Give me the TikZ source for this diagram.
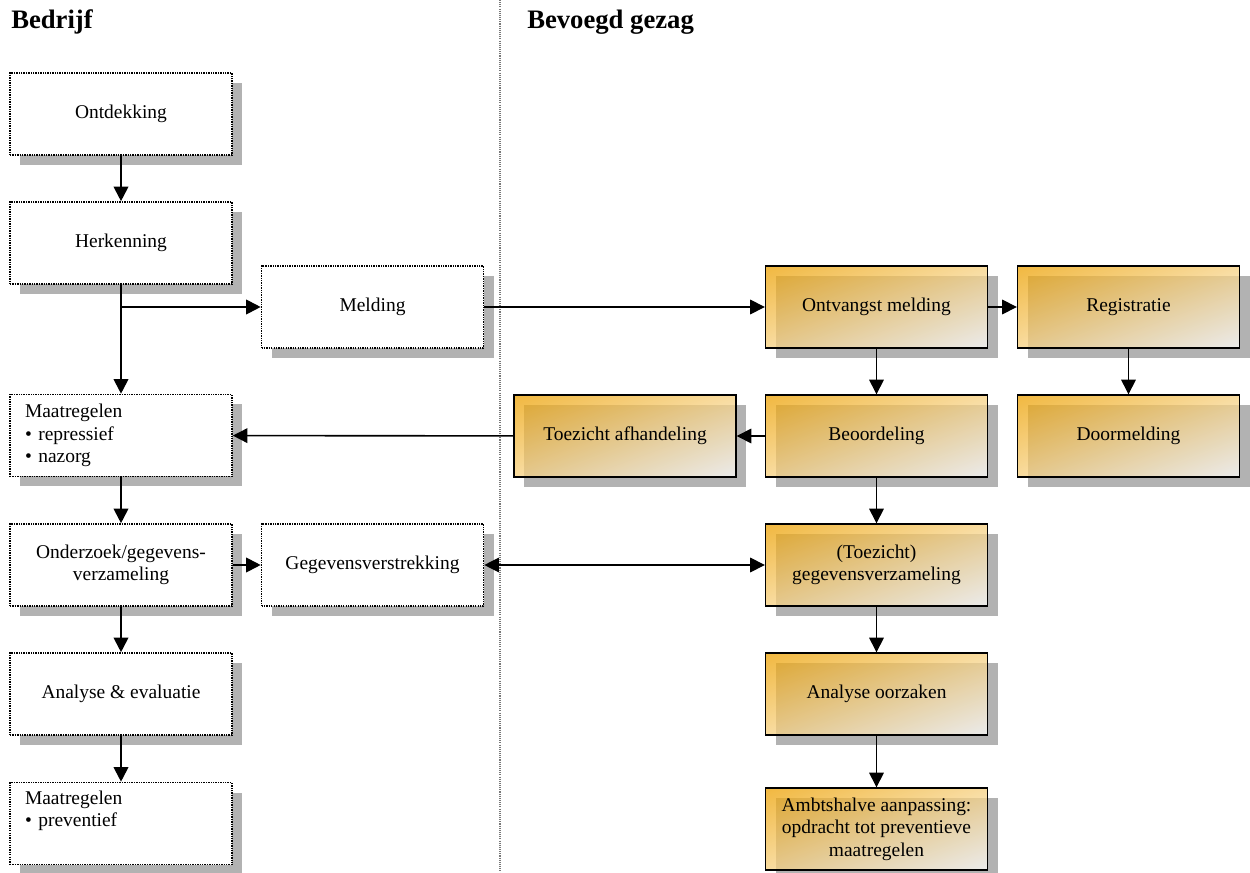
\documentclass[tikz,border=0pt]{standalone}
\usepackage{fontspec}
\setmainfont{Liberation Serif}
\usetikzlibrary{arrows.meta,shadows}
\definecolor{shadowgray}{RGB}{178,178,178}
\definecolor{sepgray}{RGB}{120,120,120}
% diagonal orange-to-white shading, normalised to the box (inner square 25..75 maps onto the box)
\pgfdeclarefunctionalshading{gezagshade}{\pgfpoint{0bp}{0bp}}{\pgfpoint{100bp}{100bp}}{}{
  exch 25 sub exch 75 exch sub add 100 div
  dup 0 lt {pop 0} if dup 1 gt {pop 1} if
  dup 0.0745 mul 0.9255 add exch
  dup 0.3725 mul 0.6275 add exch
  1.0 mul 0.0 add
}
\begin{document}
\begin{tikzpicture}[x=0.75pt, y=-0.75pt,
  box/.style={rectangle, minimum width=166.5pt, minimum height=61.5pt, inner sep=0pt,
    align=center, font=\fontsize{14.6}{16.9}\selectfont,
    drop shadow={shadow xshift=7.5pt, shadow yshift=-7.5pt, fill=shadowgray, opacity=1}},
  bedrijfbox/.style={box, draw, fill=white, line width=1.2pt, dash pattern=on 1pt off 0.8pt},
  gezagbox/.style={box, draw, line width=1pt, shade, shading=gezagshade,
    fill opacity=0.75, text opacity=1, draw opacity=1},
  header/.style={anchor=base west, inner sep=0pt, font=\bfseries\fontsize{20}{24}\selectfont},
  arr/.style={-{Triangle[length=11pt,width=11pt]}},
  dblarr/.style={{Triangle[length=11pt,width=11pt]}-{Triangle[length=11pt,width=11pt]}},
  thickline/.style={line width=1.5pt},
  medline/.style={line width=1.2pt},
  thinline/.style={line width=0.9pt}]
\useasboundingbox (0,0) rectangle (1250,873);

% headers
\node[header] (hb) at (11,29) {Bedrijf};
\node[header] (hg) at (527,29) {Bevoegd gezag};

% separator
\coordinate (septop) at (500,0);
\coordinate (sepbot) at (500,873);
\draw[sepgray, line width=0.8pt, dash pattern=on 0.8pt off 0.8pt] (septop) -- (sepbot);

% Bedrijf boxes
\node[bedrijfbox] (ontd) at (121,114) {Ontdekking};
\node[bedrijfbox] (herk) at (121,243) {Herkenning};
\node[bedrijfbox] (meld) at (372.5,307) {Melding};
\node[bedrijfbox, text width=144pt, align=left] (maat1) at (121,435.5) {Maatregelen\\• repressief\\• nazorg};
\node[bedrijfbox] (onder) at (121,565) {Onderzoek/gegevens-\\verzameling};
\node[bedrijfbox] (gegv) at (372.5,565) {Gegevensverstrekking};
\node[bedrijfbox] (anal) at (121,694) {Analyse \& evaluatie};
\node[bedrijfbox, text width=144pt, align=left] (maat2) at (121,823.5) {Maatregelen\\• preventief\\\strut};

% Bevoegd gezag boxes
\node[gezagbox] (ontv) at (876.5,307) {Ontvangst melding};
\node[gezagbox] (regi) at (1128.5,307) {Registratie};
\node[gezagbox] (toez) at (625,436) {Toezicht afhandeling};
\node[gezagbox] (beoo) at (876.5,436) {Beoordeling};
\node[gezagbox] (door) at (1128.5,436) {Doormelding};
\node[gezagbox] (tgeg) at (876.5,565) {(Toezicht)\\gegevensverzameling};
\node[gezagbox] (anoo) at (876.5,694) {Analyse oorzaken};
\node[gezagbox] (ambt) at (876.5,829) {Ambtshalve aanpassing:\\opdracht tot preventieve\\maatregelen};

% connectors
\draw[arr, thickline] (ontd) -- (herk);
\draw[arr, thickline] (herk) -- (maat1);
\coordinate (branch) at (herk.south |- meld.west);
\draw[arr, thickline] (branch) -- (meld);
\draw[arr, thinline] (meld) -- (ontv);
\draw[arr, thinline] (ontv) -- (regi);
\draw[arr, thinline] (ontv) -- (beoo);
\draw[arr, thinline] (regi) -- (door);
\draw[arr, thinline] (beoo) -- (toez);
\draw[arr, medline] (toez) -- (maat1);
\draw[arr, thinline] (beoo) -- (tgeg);
\draw[arr, thickline] (maat1) -- (onder);
\draw[arr, thickline] (onder) -- (gegv);
\draw[dblarr, thinline] (gegv) -- (tgeg);
\draw[arr, thickline] (onder) -- (anal);
\draw[arr, thickline] (anal) -- (maat2);
\draw[arr, thinline] (tgeg) -- (anoo);
\draw[arr, thinline] (anoo) -- (ambt);
\end{tikzpicture}
\end{document}
